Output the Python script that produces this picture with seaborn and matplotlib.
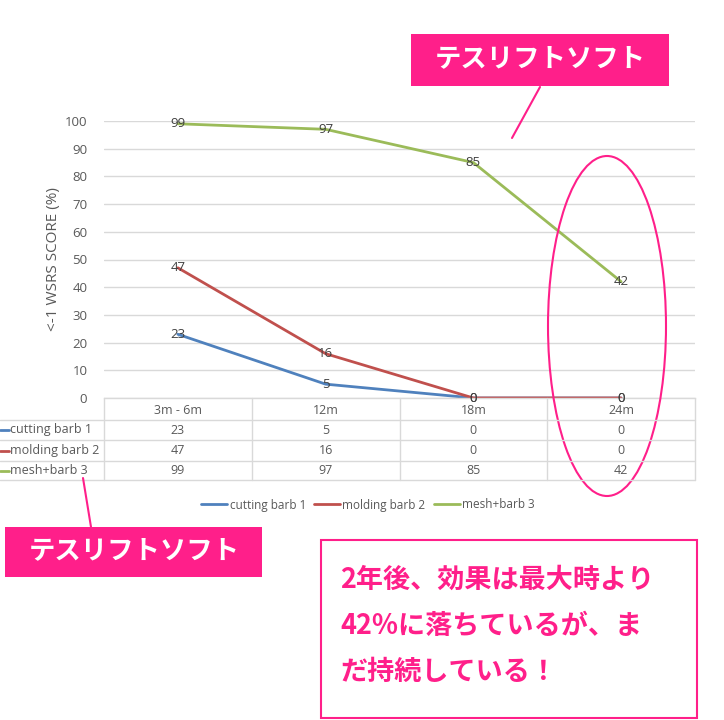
import matplotlib
matplotlib.use("Agg")
import matplotlib.pyplot as plt
import seaborn as sns
import pandas as pd
from matplotlib.patches import Rectangle, Ellipse
from matplotlib.lines import Line2D

categories = ["3m - 6m", "12m", "18m", "24m"]
series_names = ["cutting barb 1", "molding barb 2", "mesh+barb 3"]
cutting_barb = [23, 5, 0, 0]
molding_barb = [47, 16, 0, 0]
mesh_barb = [99, 97, 85, 42]
yticks = [0, 10, 20, 30, 40, 50, 60, 70, 80, 90, 100]
ylabel = "<-1 WSRS SCORE (%)"
callout_label = "テスリフトソフト"
note_lines = ["2年後、効果は最大時より", "42%に落ちているが、ま", "だ持続している！"]

colors = ["#4F81BD", "#C0504D", "#9BBB59"]
PINK = "#FF1F8A"
GRAY = "#595959"
GRID = "#D9D9D9"

values = [cutting_barb, molding_barb, mesh_barb]
rows = []
for name, vals in zip(series_names, values):
    for i, (c, v) in enumerate(zip(categories, vals)):
        rows.append({"series": name, "period": c, "pos": i, "value": v})
df = pd.DataFrame(rows)

sns.set_style("white")
plt.rcParams["font.family"] = ["Open Sans", "Noto Sans CJK JP", "DejaVu Sans"]

W, H = 724, 720
fig = plt.figure(figsize=(W / 100, H / 100), dpi=100)

def fx(px):
    return px / W

def fy(py):
    return 1 - py / H

left, right, top, bottom = 104, 695, 121, 398
ax = fig.add_axes([fx(left), fy(bottom), fx(right) - fx(left), fy(top) - fy(bottom)])

sns.lineplot(data=df, x="pos", y="value", hue="series", hue_order=series_names,
             palette=colors, ax=ax, linewidth=2, legend=False, sort=False)

n = len(categories)
ax.set_xlim(-0.5, n - 0.5)
ax.set_ylim(0, 100)
ax.set_yticks(yticks)
ax.set_yticklabels([str(t) for t in yticks], color=GRAY, fontsize=9.5)
ax.set_xticks([])
ax.set_xlabel("")
ax.set_ylabel(ylabel, color=GRAY, fontsize=11, labelpad=3)
ax.tick_params(axis="y", length=0, pad=12)
ax.grid(axis="y", color=GRID, linewidth=1)
for s in ["left", "right", "top"]:
    ax.spines[s].set_visible(False)
ax.spines["bottom"].set_color(GRID)
ax.spines["bottom"].set_linewidth(1)

# data labels
for vals in values:
    for i, v in enumerate(vals):
        ax.text(i, v, str(v), ha="center", va="center", fontsize=9.5, color="#404040")

# data table below the plot
row_edges = [398, 420, 440, 461, 480]
col_w = (right - left) / n
for yy in row_edges[1:]:
    fig.add_artist(Line2D([0, fx(right)], [fy(yy), fy(yy)], color=GRID, lw=1))
fig.add_artist(Line2D([fx(left), fx(left)], [fy(row_edges[0]), fy(row_edges[-1])], color=GRID, lw=1))
for j in range(1, n + 1):
    xx = left + j * col_w
    fig.add_artist(Line2D([fx(xx), fx(xx)], [fy(row_edges[0]), fy(row_edges[-1])], color=GRID, lw=1))

for j, c in enumerate(categories):
    cx = left + (j + 0.5) * col_w
    fig.text(fx(cx), fy((row_edges[0] + row_edges[1]) / 2 + 1), c, ha="center", va="center",
             fontsize=9, color=GRAY)
for r, (name, vals, col) in enumerate(zip(series_names, values, colors)):
    cy = (row_edges[r + 1] + row_edges[r + 2]) / 2
    fig.add_artist(Line2D([fx(0), fx(9)], [fy(cy), fy(cy)], color=col, lw=2))
    fig.text(fx(10), fy(cy), name, ha="left", va="center", fontsize=9, color=GRAY)
    for j, v in enumerate(vals):
        cx = left + (j + 0.5) * col_w
        fig.text(fx(cx), fy(cy), str(v), ha="center", va="center", fontsize=9, color=GRAY)

# legend
handles = [Line2D([], [], color=c, lw=2) for c in colors]
fig.legend(handles, series_names, loc="center", bbox_to_anchor=(fx(368), fy(505)),
           ncol=3, frameon=False, fontsize=8.5, handlelength=2.2, handletextpad=0.2,
           columnspacing=0.7, labelcolor=GRAY)

# callout boxes
jp = ["Noto Sans CJK JP", "DejaVu Sans"]
fig.add_artist(Rectangle((fx(411), fy(86)), fx(669) - fx(411), fy(34) - fy(86),
                         facecolor=PINK, edgecolor="none"))
fig.text(fx(540), fy(59), callout_label, ha="center", va="center", fontsize=19,
         color="white", family=jp, weight="bold")
fig.add_artist(Line2D([fx(540), fx(512)], [fy(87), fy(138)], color=PINK, lw=1.5))

fig.add_artist(Rectangle((fx(5), fy(577)), fx(262) - fx(5), fy(527) - fy(577),
                         facecolor=PINK, edgecolor="none"))
fig.text(fx(134), fy(551), callout_label, ha="center", va="center", fontsize=19,
         color="white", family=jp, weight="bold")
fig.add_artist(Line2D([fx(83), fx(91)], [fy(478), fy(527)], color=PINK, lw=1.5))

# ellipse
fig.add_artist(Ellipse((fx(607), fy(326)), fx(118), 340 / H, facecolor="none",
                       edgecolor=PINK, lw=1.5))

# note box
fig.add_artist(Rectangle((fx(321), fy(718)), fx(697) - fx(321), fy(540) - fy(718),
                         facecolor="white", edgecolor=PINK, lw=1.5))
for k, line in enumerate(note_lines):
    fig.text(fx(340), fy(580 + k * 46), line, ha="left", va="center", fontsize=19.5,
             color=PINK, family=jp, weight="bold")

fig.savefig("out.png", dpi=100)
